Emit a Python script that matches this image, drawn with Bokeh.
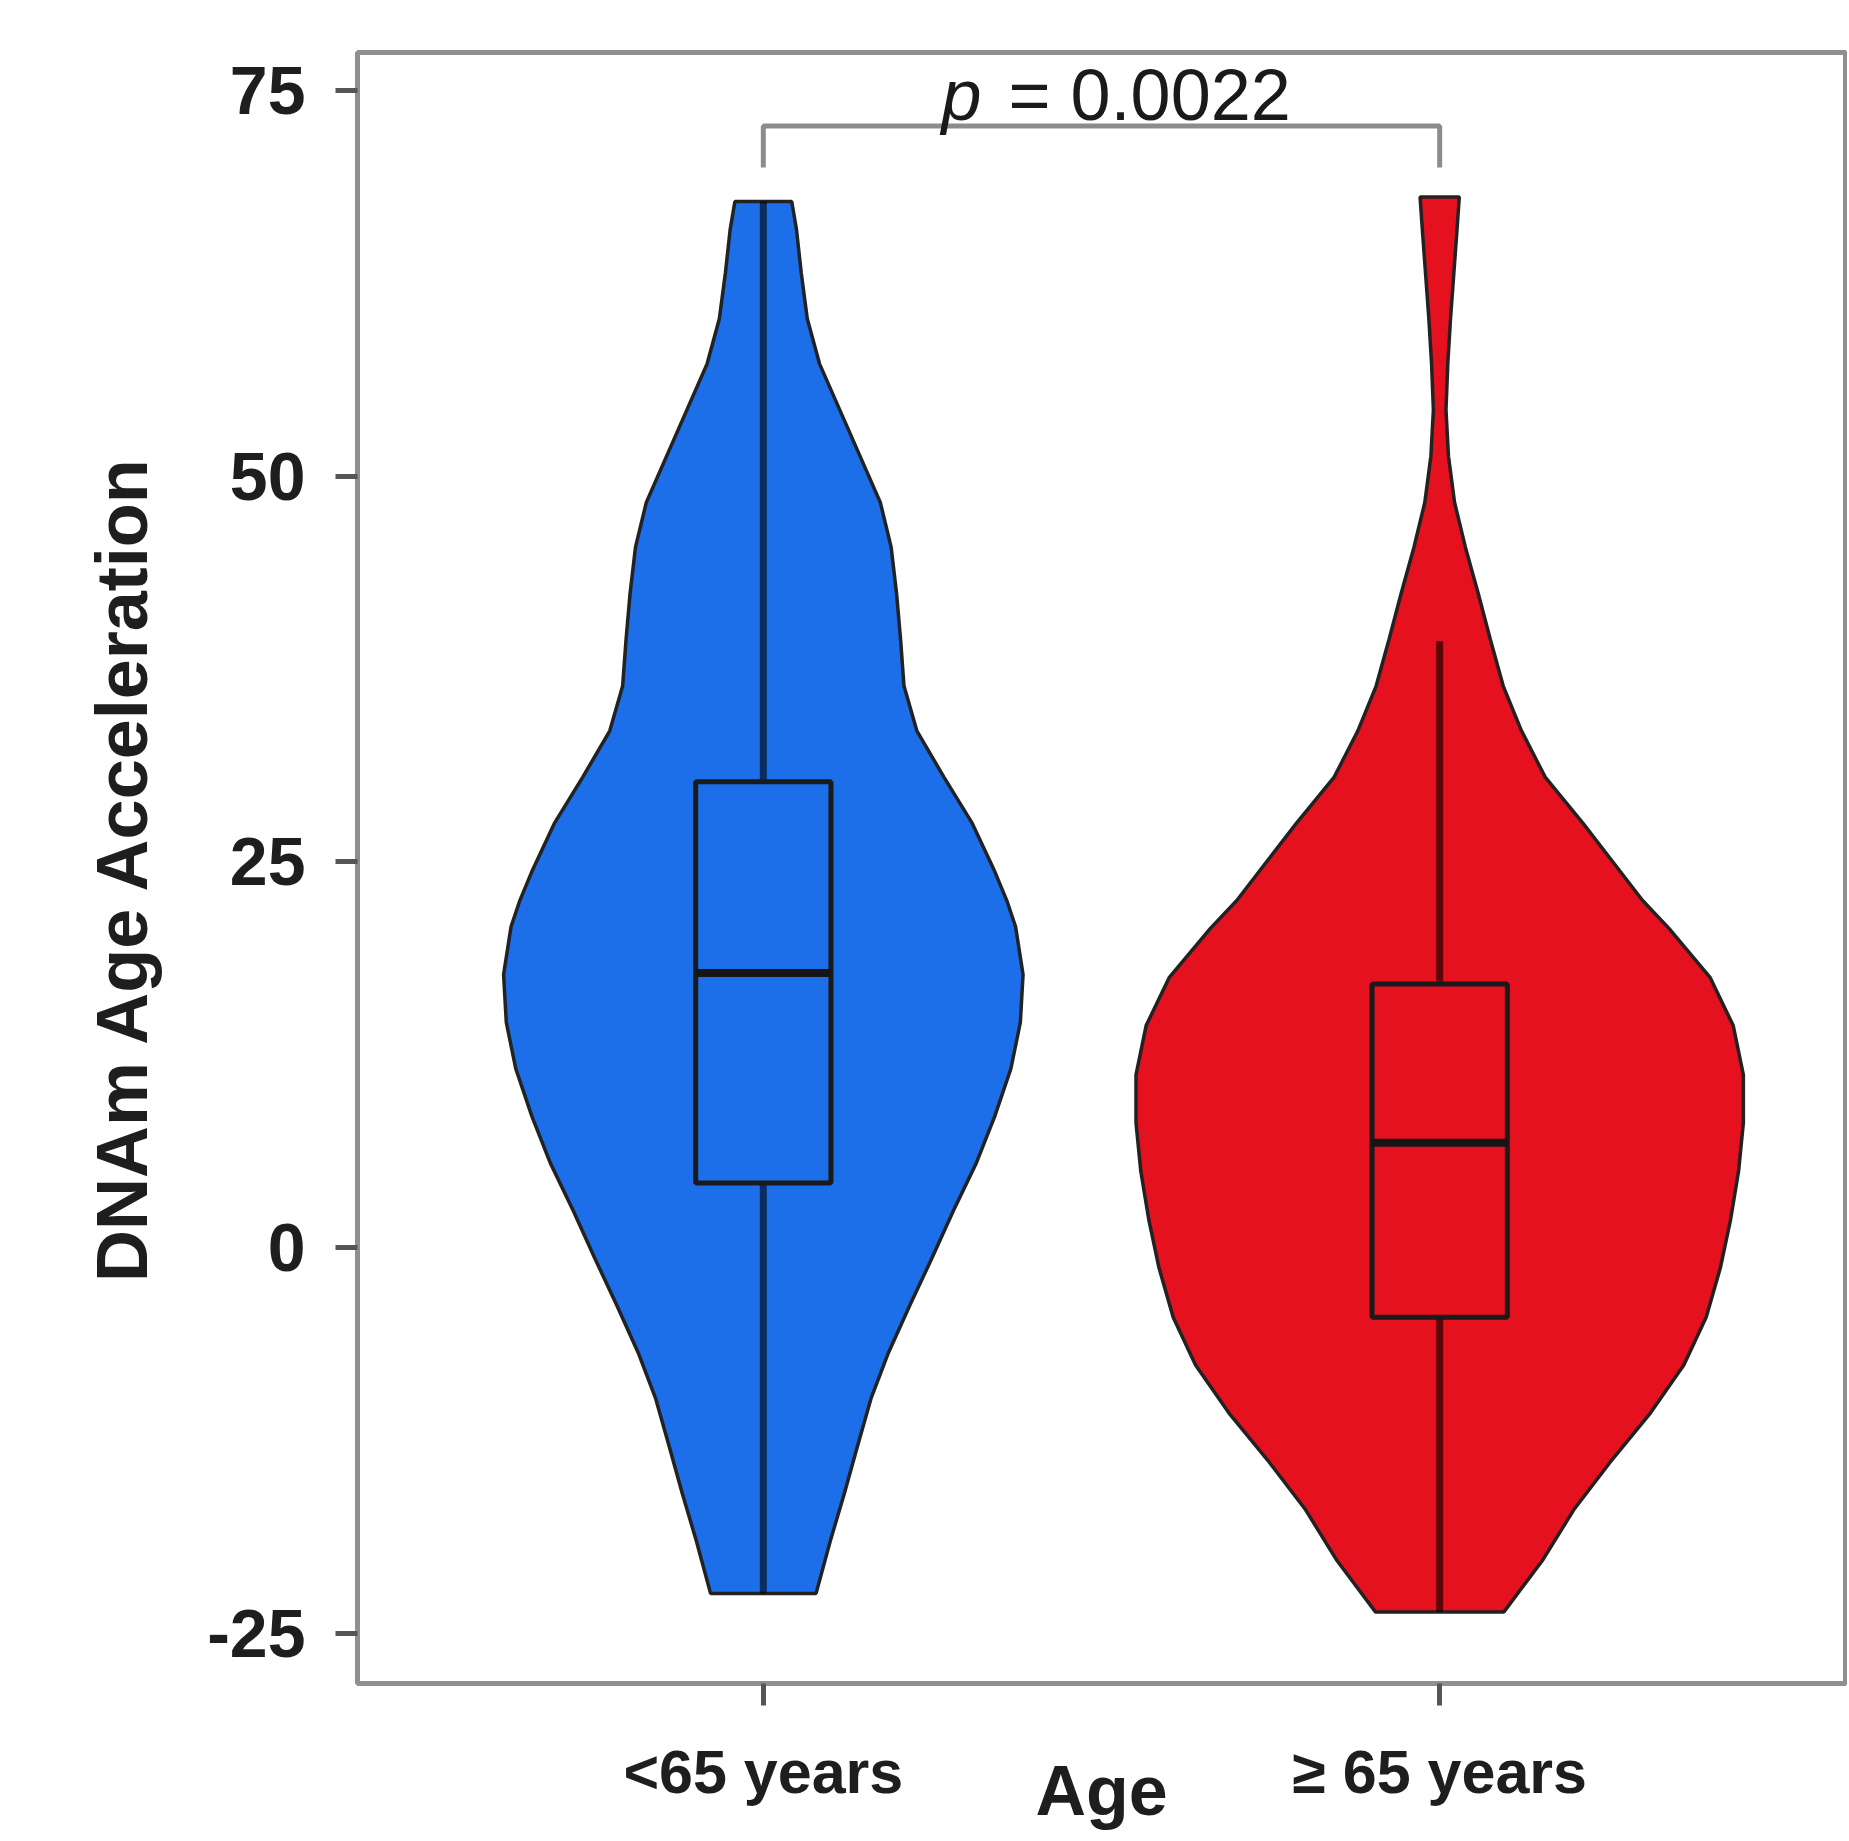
from bokeh.plotting import figure
from bokeh.models import Range1d, FixedTicker, Label
from bokeh.embed import file_html
from bokeh.resources import INLINE

# ---------------- data ----------------
groups = ["<65 years", "≥ 65 years"]
fill_colors = ["#1c6fe8", "#e5111f"]

# violin outlines: y value and half width (in category units)
blue_y = [67.8, 66.0, 63.2, 60.2, 57.3, 54.3, 51.3, 48.3, 45.4, 42.4, 39.4, 36.4,
          33.5, 30.5, 27.5, 24.5, 22.5, 20.8, 17.7, 14.6, 11.6, 8.5, 5.5, 2.4,
          -0.7, -3.7, -6.8, -9.8, -12.9, -15.9, -19.0, -22.4]
blue_w = [0.042, 0.049, 0.056, 0.065, 0.083, 0.113, 0.143, 0.173, 0.189, 0.197, 0.203, 0.208,
          0.227, 0.267, 0.309, 0.341, 0.360, 0.373, 0.384, 0.380, 0.366, 0.342, 0.315, 0.281,
          0.249, 0.217, 0.185, 0.159, 0.139, 0.120, 0.099, 0.078]

red_y = [68.1, 66.2, 63.2, 60.2, 57.3, 54.3, 51.3, 48.3, 45.4, 42.4, 39.4, 36.4,
         33.5, 30.5, 27.5, 24.5, 22.5, 20.7, 17.5, 14.4, 11.2, 8.1, 5.0, 1.8,
         -1.3, -4.5, -7.6, -10.8, -13.9, -17.0, -20.2, -23.6]
red_w = [0.029, 0.026, 0.021, 0.016, 0.012, 0.0093, 0.013, 0.022, 0.038, 0.057, 0.075, 0.094,
         0.121, 0.156, 0.212, 0.265, 0.300, 0.339, 0.400, 0.434, 0.449, 0.449, 0.442, 0.430,
         0.415, 0.394, 0.361, 0.310, 0.252, 0.198, 0.153, 0.095]

# box plot statistics
q1 = [4.2, -4.5]
median = [17.8, 6.8]
q3 = [30.2, 17.1]
whisk_lo = [-22.4, -23.6]
whisk_hi = [67.8, 39.3]

y_ticks = [-25, 0, 25, 50, 75]
y_tick_labels = ["-25", "0", "25", "50", "75"]
p_value = "0.0022"

# ---------------- figure ----------------
FONT = "Liberation Sans"
p = figure(width=1847, height=1838,
           x_range=Range1d(0.4, 2.6), y_range=Range1d(-28.24, 77.46),
           output_backend="svg", toolbar_location=None,
           min_border_left=357, min_border_top=52,
           min_border_right=2, min_border_bottom=155)
p.background_fill_color = "white"
p.border_fill_color = "white"
p.xgrid.visible = False
p.ygrid.visible = False
p.outline_line_color = "#8f8f8f"
p.outline_line_width = 5

positions = [i + 1 for i in range(len(groups))]
violins = [(blue_y, blue_w), (red_y, red_w)]
box_half = 0.1

for pos, (vy, vw), col in zip(positions, violins, fill_colors):
    xs = [pos + w for w in vw] + [pos - w for w in reversed(vw)]
    ys = list(vy) + list(reversed(vy))
    p.patch(xs, ys, fill_color=col, line_color="#222222", line_width=3.5)

for i, pos in enumerate(positions):
    p.segment(x0=[pos, pos], y0=[whisk_lo[i], q3[i]], x1=[pos, pos], y1=[q1[i], whisk_hi[i]],
              line_color="black", line_alpha=0.6, line_width=7)
    p.quad(left=[pos - box_half], right=[pos + box_half], bottom=[q1[i]], top=[q3[i]],
           fill_color=fill_colors[i], line_color="#1a1a1a", line_width=5)
    p.segment(x0=[pos - box_half], y0=[median[i]], x1=[pos + box_half], y1=[median[i]],
              line_color="#151515", line_width=8)

# significance bracket
mid = sum(positions) / len(positions)
br_top, br_leg = 72.7, 70.0
p.line([positions[0], positions[0], positions[1], positions[1]],
       [br_leg, br_top, br_top, br_leg], line_color="#8c8c8c", line_width=5)
p.add_layout(Label(x=mid, y=74.7, x_offset=-160, text="p", text_align="left",
                   text_baseline="alphabetic", text_font=FONT,
                   text_font_style="italic", text_font_size="72px", text_color="#1a1a1a"))
p.add_layout(Label(x=mid, y=74.7, x_offset=-93, text="= " + p_value, text_align="left",
                   text_baseline="alphabetic", text_font=FONT,
                   text_font_size="72px", text_color="#1a1a1a"))

# axes
p.xaxis.ticker = FixedTicker(ticks=positions)
p.xaxis.major_label_overrides = {pos: g for pos, g in zip(positions, groups)}
p.yaxis.ticker = FixedTicker(ticks=y_ticks)
p.yaxis.major_label_overrides = {t: s for t, s in zip(y_ticks, y_tick_labels)}
for ax in (p.xaxis[0], p.yaxis[0]):
    ax.axis_line_color = None
    ax.major_tick_line_color = "#555555"
    ax.major_tick_line_width = 5
    ax.major_tick_out = 22
    ax.major_tick_in = 0
    ax.minor_tick_line_color = None
    ax.major_label_text_font = FONT
    ax.major_label_text_font_style = "bold"
    ax.major_label_text_color = "#1e1e1e"
p.yaxis.major_label_text_font_size = "68px"
p.yaxis.major_label_standoff = 30
p.xaxis.major_label_text_font_size = "61px"
p.xaxis.major_label_standoff = 32

p.yaxis.axis_label = "DNAm Age Acceleration"
p.yaxis.axis_label_text_font = FONT
p.yaxis.axis_label_text_font_style = "bold"
p.yaxis.axis_label_text_font_size = "72px"
p.yaxis.axis_label_text_color = "#1e1e1e"
p.yaxis.axis_label_standoff = 42

p.xaxis.axis_label = "Age"
p.xaxis.axis_label_text_font = FONT
p.xaxis.axis_label_text_font_style = "bold"
p.xaxis.axis_label_text_font_size = "70px"
p.xaxis.axis_label_text_color = "#1e1e1e"
p.xaxis.axis_label_standoff = -57

open("out.html", "w").write(file_html(p, INLINE))
